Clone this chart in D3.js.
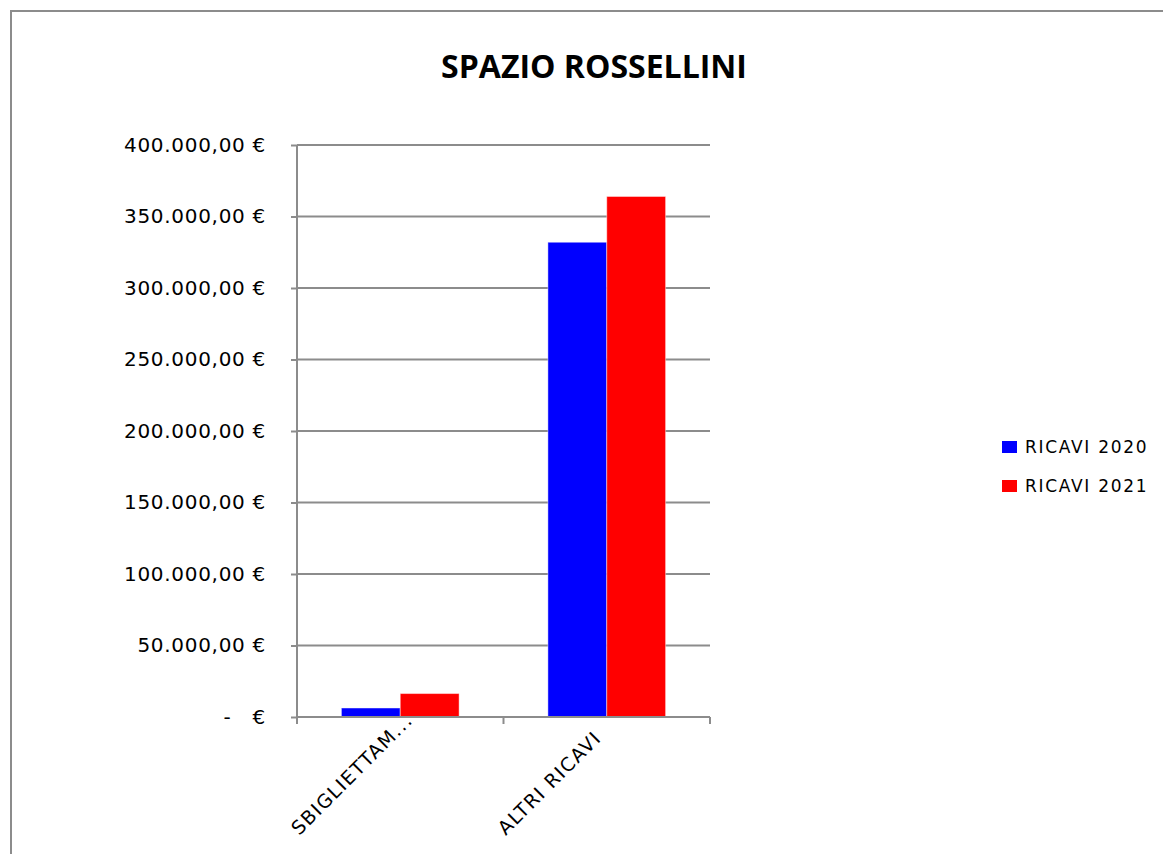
<!DOCTYPE html>
<html>
<head>
<meta charset="utf-8">
<script src="https://cdn.jsdelivr.net/npm/d3@7"></script>
<style>
  body { margin: 0; background: #fff; }
  svg { display: block; }
</style>
</head>
<body>
<div id="chart"></div>
<script>
// values
const categories = ["SBIGLIETTAM...", "ALTRI RICAVI"];
const seriesNames = ["RICAVI 2020", "RICAVI 2021"];
const ricavi2020 = [6300, 332000];
const ricavi2021 = [16400, 364000];
const seriesColors = ["#0000ff", "#ff0000"];
const yTicks = [0, 50000, 100000, 150000, 200000, 250000, 300000, 350000, 400000];

const width = 1163, height = 854;
const plot = {left: 297, right: 710, top: 145, bottom: 717};

const it = d3.formatLocale({decimal: ",", thousands: ".", grouping: [3], currency: ["", "\u00a0€"]});
const fmtEur = it.format(",.2f");
function yLabel(v) {
    if (v === 0) { return "-\u00a0\u00a0\u00a0€"; }
    return fmtEur(v) + "\u00a0€";
}

const svg = d3.select("#chart").append("svg")
    .attr("width", width).attr("height", height);

// outer chart border (runs off the right and bottom edges)
svg.append("rect")
    .attr("x", 11).attr("y", 11)
    .attr("width", width + 20).attr("height", height + 20)
    .attr("fill", "none").attr("stroke", "#8c8c8c").attr("stroke-width", 2);

svg.append("text")
    .attr("x", 594).attr("y", 78)
    .attr("text-anchor", "middle")
    .attr("fill", "#000")
    .style("font-family", "'Open Sans', sans-serif")
    .style("font-weight", "bold")
    .style("font-size", "32px")
    .text("SPAZIO ROSSELLINI");

const y = d3.scaleLinear().domain([0, 400000]).range([plot.bottom, plot.top]);
const x0 = d3.scaleBand().domain(categories).range([plot.left, plot.right])
    .paddingInner(0.43).paddingOuter(0.215);
const x1 = d3.scaleBand().domain(seriesNames).range([0, x0.bandwidth()]);

// gridlines
svg.append("g").selectAll("line")
    .data(yTicks.filter(d => d > 0))
    .enter().append("line")
    .attr("x1", plot.left).attr("x2", plot.right)
    .attr("y1", d => y(d)).attr("y2", d => y(d))
    .attr("stroke", "#8c8c8c").attr("stroke-width", 2);

// bars
const rows = categories.map((c, i) => ({cat: c, vals: [ricavi2020[i], ricavi2021[i]]}));
svg.append("g").selectAll("g")
    .data(rows)
    .enter().append("g")
    .attr("transform", d => "translate(" + x0(d.cat) + ",0)")
    .selectAll("rect")
    .data(d => d.vals.map((v, j) => ({s: seriesNames[j], v: v, c: seriesColors[j]})))
    .enter().append("rect")
    .attr("x", d => x1(d.s))
    .attr("width", x1.bandwidth())
    .attr("y", d => y(d.v))
    .attr("height", d => plot.bottom - y(d.v))
    .attr("fill", d => d.c)
    .attr("stroke", "rgba(255,255,255,0.45)")
    .attr("stroke-width", 1);

// y axis
const yAxis = svg.append("g")
    .attr("transform", "translate(" + plot.left + ",0)")
    .call(d3.axisLeft(y).tickValues(yTicks).tickSize(6).tickPadding(25).tickFormat(yLabel));
yAxis.select(".domain").remove();
yAxis.selectAll(".tick line").attr("stroke", "#8c8c8c").attr("stroke-width", 2);
yAxis.selectAll(".tick text")
    .attr("fill", "#000")
    .style("font-family", "'DejaVu Sans', sans-serif")
    .style("font-size", "20px")
    .style("letter-spacing", "0.7px");
svg.append("line")
    .attr("x1", plot.left).attr("x2", plot.left)
    .attr("y1", plot.top).attr("y2", plot.bottom + 7)
    .attr("stroke", "#8c8c8c").attr("stroke-width", 2);

// x axis
svg.append("line")
    .attr("x1", plot.left).attr("x2", plot.right)
    .attr("y1", plot.bottom).attr("y2", plot.bottom)
    .attr("stroke", "#8c8c8c").attr("stroke-width", 2);
const step = x0.step();
svg.append("g").selectAll("line")
    .data(d3.range(categories.length + 1))
    .enter().append("line")
    .attr("x1", i => plot.left + i * step).attr("x2", i => plot.left + i * step)
    .attr("y1", plot.bottom).attr("y2", plot.bottom + 7)
    .attr("stroke", "#8c8c8c").attr("stroke-width", 2);

svg.append("g").selectAll("text")
    .data(categories)
    .enter().append("text")
    .attr("transform", d => "translate(" + (x0(d) + x0.bandwidth() / 2 - 101) + ",836) rotate(-45)")
    .attr("text-anchor", "start")
    .attr("fill", "#000")
    .style("font-family", "'DejaVu Sans', sans-serif")
    .style("font-size", "19px")
    .style("letter-spacing", "1.4px")
    .text(d => d);

// legend
const legend = svg.append("g").selectAll("g")
    .data(seriesNames)
    .enter().append("g")
    .attr("transform", (d, i) => "translate(1002," + (441 + i * 39) + ")");
legend.append("rect")
    .attr("width", 15).attr("height", 12)
    .attr("fill", (d, i) => seriesColors[i]);
legend.append("text")
    .attr("x", 23).attr("y", 12)
    .attr("fill", "#000")
    .style("font-family", "'DejaVu Sans', sans-serif")
    .style("font-size", "17px")
    .style("letter-spacing", "1.7px")
    .text(d => d);
</script>
</body>
</html>
